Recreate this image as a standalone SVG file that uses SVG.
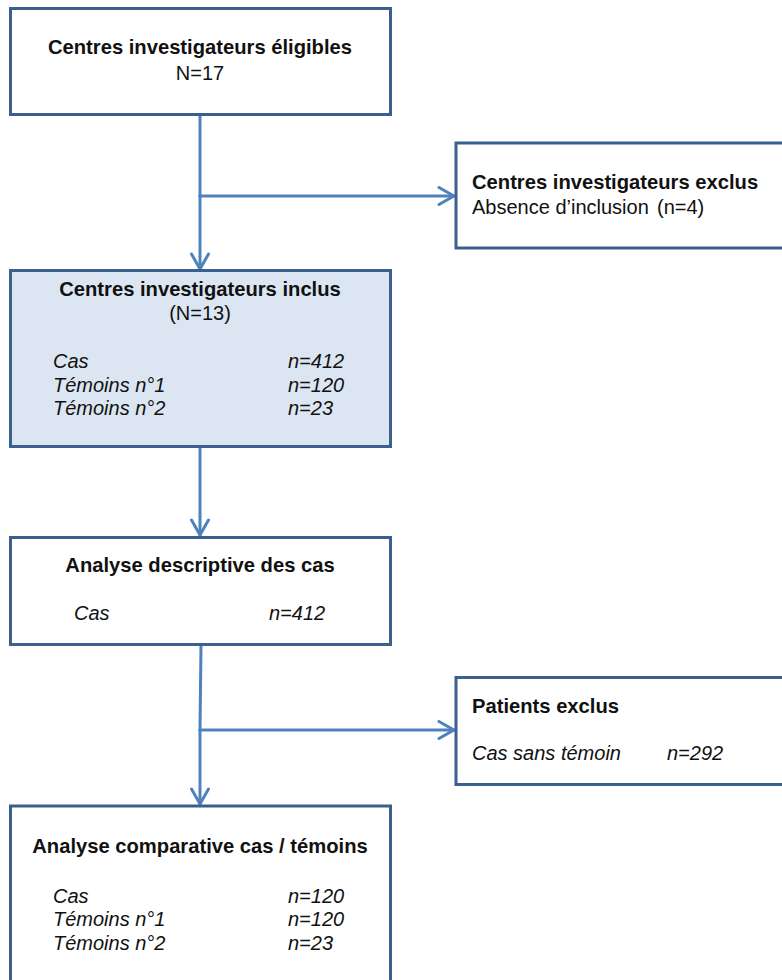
<svg xmlns="http://www.w3.org/2000/svg" width="782" height="980" viewBox="0 0 782 980">
  <style>
    .box { fill: #ffffff; stroke: #3b5f8e; stroke-width: 3; }
    .box.hl { fill: #dce6f2; }
    .t { font-family: "Liberation Sans", Arial, sans-serif; font-size: 20px; fill: #111111; }
    .b { font-weight: bold; font-size: 20.2px; }
    .i { font-style: italic; }
    .c { text-anchor: middle; }
    .link { fill: none; stroke: #4f81bd; stroke-width: 3; stroke-linecap: round; stroke-linejoin: round; }
  </style>
  <defs>
    <marker id="chev" viewBox="-17 -10 19 20" refX="0" refY="0" markerWidth="19" markerHeight="20" markerUnits="userSpaceOnUse" orient="auto">
      <path d="M -15 -8.5 L 0 0 L -15 8.5" fill="none" stroke="#4f81bd" stroke-width="3" stroke-linecap="round" stroke-linejoin="round"/>
    </marker>
  </defs>

  <!-- connectors -->
  <g id="connectors">
    <path class="link" d="M 200 115 L 200 196"/>
    <path class="link" d="M 200 196 L 200 269" marker-end="url(#chev)"/>
    <path class="link" d="M 200 196 L 454 196" marker-end="url(#chev)"/>
    <path class="link" d="M 200 448 L 200 535" marker-end="url(#chev)"/>
    <path class="link" d="M 201 646 L 200 730"/>
    <path class="link" d="M 200 730 L 200 804" marker-end="url(#chev)"/>
    <path class="link" d="M 200 730 L 454 730" marker-end="url(#chev)"/>
  </g>

  <!-- eligible centres -->
  <g id="eligibles">
    <rect class="box" x="10.5" y="8.5" width="380" height="106"/>
    <text class="t b c" x="200" y="54">Centres investigateurs éligibles</text>
    <text class="t c" x="200" y="80">N=17</text>
  </g>

  <!-- excluded centres -->
  <g id="exclus-centres">
    <rect class="box" x="456" y="143" width="340" height="105"/>
    <text class="t b" x="472" y="189">Centres investigateurs exclus</text>
    <text class="t" x="472" y="214">Absence d’inclusion<tspan x="657">(n=4)</tspan></text>
  </g>

  <!-- included centres -->
  <g id="inclus">
    <rect class="box hl" x="10.5" y="270.5" width="380" height="176"/>
    <text class="t b c" x="200" y="296">Centres investigateurs inclus</text>
    <text class="t c" x="200" y="320">(N=13)</text>
    <text class="t i" x="53" y="368">Cas</text>
    <text class="t i" x="288" y="368">n=412</text>
    <text class="t i" x="53" y="392">Témoins n°1</text>
    <text class="t i" x="288" y="392">n=120</text>
    <text class="t i" x="53" y="415">Témoins n°2</text>
    <text class="t i" x="288" y="415">n=23</text>
  </g>

  <!-- descriptive analysis -->
  <g id="descriptive">
    <rect class="box" x="10.5" y="537.5" width="380" height="107"/>
    <text class="t b c" x="200" y="572">Analyse descriptive des cas</text>
    <text class="t i" x="74" y="620">Cas</text>
    <text class="t i" x="269" y="620">n=412</text>
  </g>

  <!-- excluded patients -->
  <g id="exclus-patients">
    <rect class="box" x="456" y="677.5" width="340" height="107"/>
    <text class="t b" x="472" y="713">Patients exclus</text>
    <text class="t i" x="472" y="760">Cas sans témoin</text>
    <text class="t i" x="667" y="760">n=292</text>
  </g>

  <!-- comparative analysis -->
  <g id="comparative">
    <rect class="box" x="10.5" y="806" width="380" height="190"/>
    <text class="t b c" x="200" y="853">Analyse comparative cas / témoins</text>
    <text class="t i" x="53" y="903">Cas</text>
    <text class="t i" x="288" y="903">n=120</text>
    <text class="t i" x="53" y="926">Témoins n°1</text>
    <text class="t i" x="288" y="926">n=120</text>
    <text class="t i" x="53" y="950">Témoins n°2</text>
    <text class="t i" x="288" y="950">n=23</text>
  </g>
</svg>
